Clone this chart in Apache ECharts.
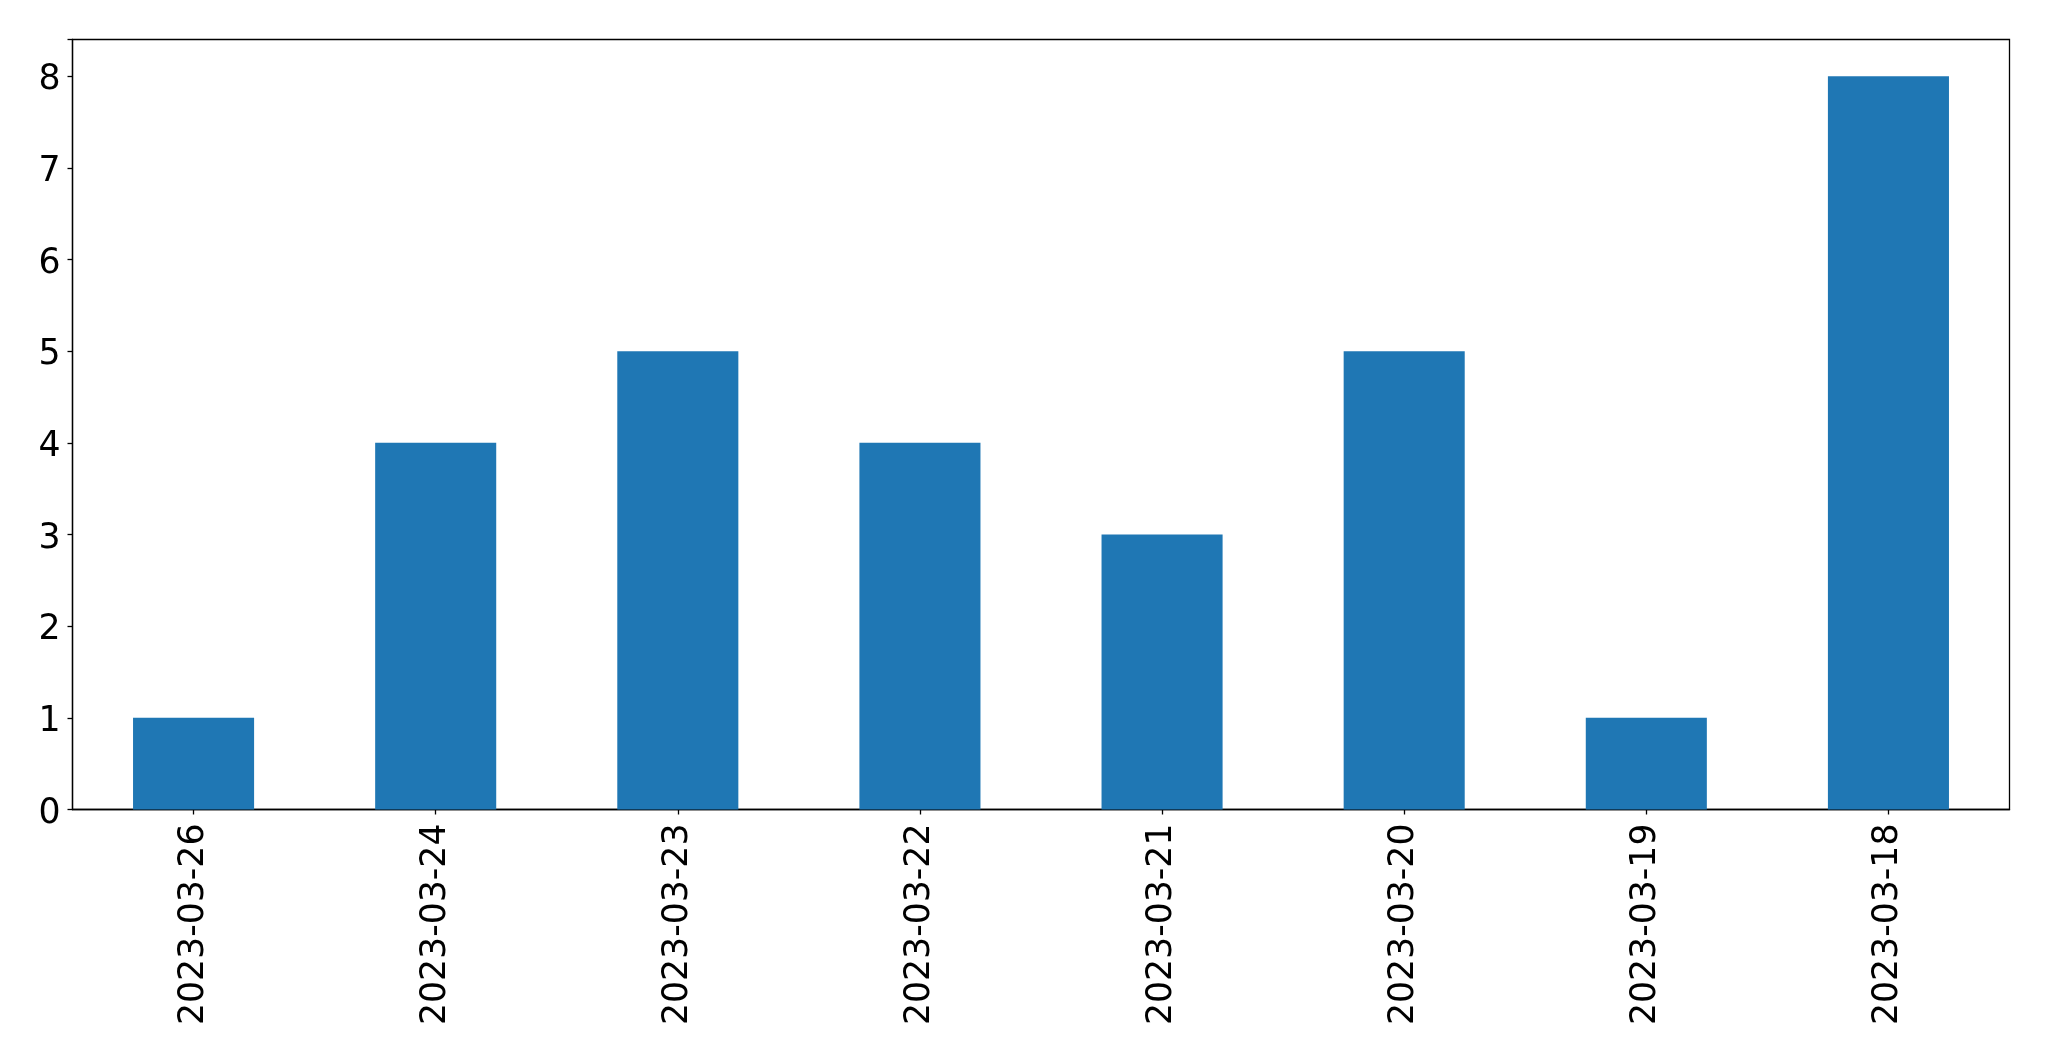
<!DOCTYPE html>
<html>
<head>
<meta charset="utf-8">
<script src="https://cdn.jsdelivr.net/npm/echarts@6/dist/echarts.min.js"></script>
<style>
html,body{margin:0;padding:0;background:#fff;}
#chart{width:2049px;height:1061px;}
</style>
</head>
<body>
<div id="chart"></div>
<script>
const categories = ["2023-03-26","2023-03-24","2023-03-23","2023-03-22","2023-03-21","2023-03-20","2023-03-19","2023-03-18"];
const values = [1, 4, 5, 4, 3, 5, 1, 8];
const yTicks = [0,1,2,3,4,5,6,7,8];

const chart = echarts.init(document.getElementById('chart'), null, {renderer:'canvas'});
chart.setOption({
  animation: false,
  backgroundColor: '#ffffff',
  grid: {left: 72.5, top: 39.5, right: 39.5, bottom: 251.5, show: true, borderColor: '#000', borderWidth: 1.3, backgroundColor: 'transparent'},
  xAxis: {
    type: 'category',
    data: categories,
    boundaryGap: true,
    axisLine: {show: true, lineStyle: {color: '#000', width: 1.3}},
    axisTick: {show: true, alignWithLabel: true, length: 5, lineStyle: {color: '#000', width: 1.3}},
    axisLabel: {rotate: 90, fontSize: 34.7, color: '#000', fontFamily: 'DejaVu Sans', margin: 14, interval: 0}
  },
  yAxis: {
    type: 'value',
    min: 0,
    max: 8.4,
    interval: 1,
    splitLine: {show: false},
    axisLine: {show: true, lineStyle: {color: '#000', width: 1.3}},
    axisTick: {show: true, length: 5, lineStyle: {color: '#000', width: 1.3}},
    axisLabel: {fontSize: 34.7, color: '#000', fontFamily: 'DejaVu Sans', margin: 12,
      formatter: function(v){ return yTicks.indexOf(v) >= 0 ? '{a|' + v + '}' : ''; },
      rich: {a: {fontSize: 34.7, color: '#000', fontFamily: 'DejaVu Sans', padding: [8, 0, 0, 0]}}},
    showMaxLabel: false
  },
  series: [{
    type: 'bar',
    data: values,
    barWidth: '50%',
    itemStyle: {color: '#1f77b4'}
  }]
});
</script>
</body>
</html>
